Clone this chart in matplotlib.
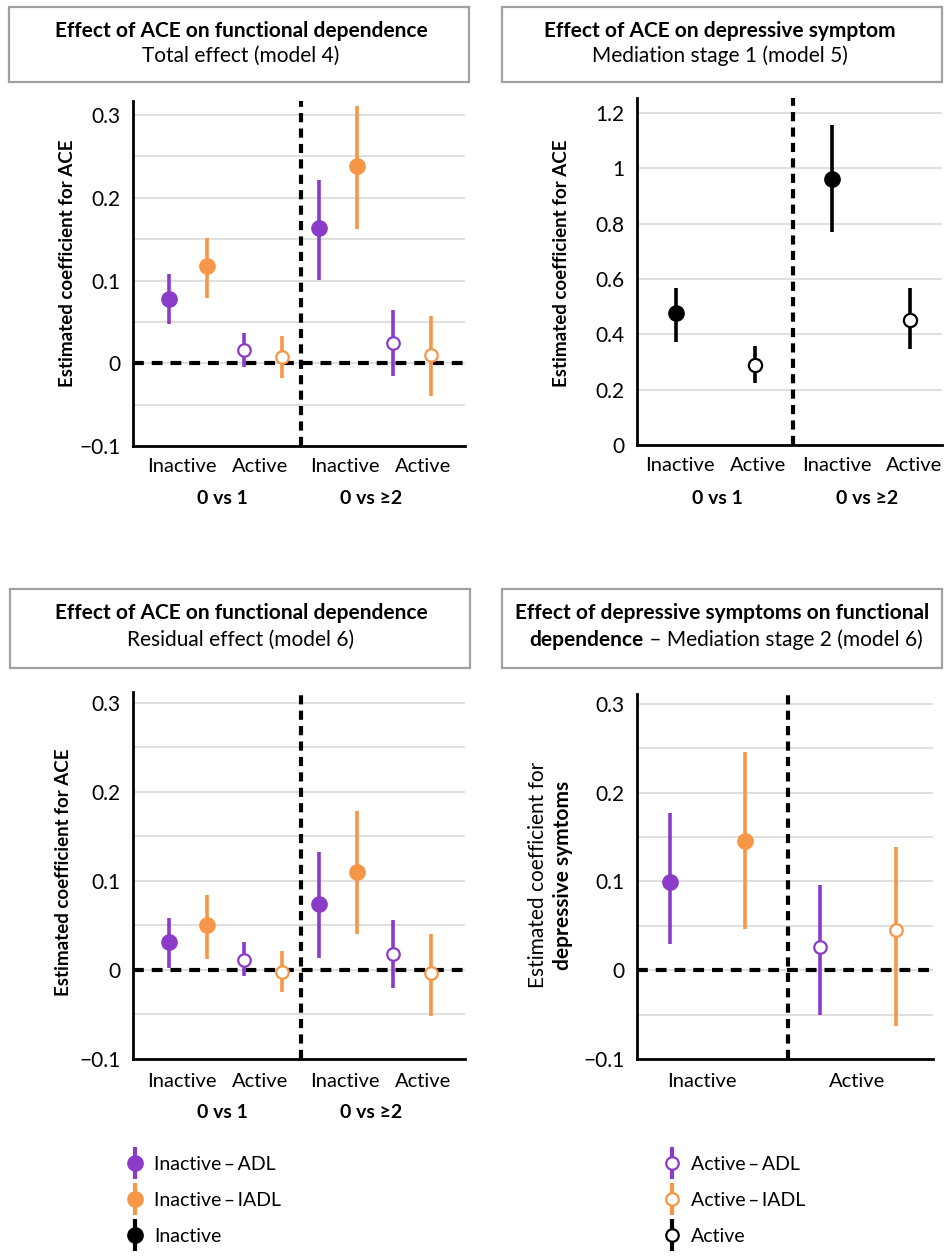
import matplotlib
matplotlib.use("Agg")
import matplotlib.pyplot as plt
from matplotlib.lines import Line2D
from matplotlib.patches import Rectangle
from matplotlib.legend_handler import HandlerTuple
import matplotlib.transforms as mtransforms

plt.rcParams['font.family'] = ['Lato', 'DejaVu Sans']

PURPLE = "#8a3cc8"
ORANGE = "#f79646"
BLACK = "#000000"

# ---------------- data ----------------
cat_labels4 = ["Inactive", "Active", "Inactive", "Active"]
group_labels = ["0 vs 1", "0 vs \u22652"]

# Panel 1: total effect (model 4)
p1_adl_est = [0.078, 0.016, 0.163, 0.025]
p1_adl_lo = [0.047, -0.004, 0.101, -0.015]
p1_adl_hi = [0.108, 0.036, 0.222, 0.064]
p1_iadl_est = [0.117, 0.007, 0.239, 0.010]
p1_iadl_lo = [0.079, -0.018, 0.162, -0.040]
p1_iadl_hi = [0.152, 0.033, 0.311, 0.057]

# Panel 2: ACE on depressive symptom (model 5)
p2_est = [0.477, 0.290, 0.963, 0.453]
p2_lo = [0.372, 0.224, 0.770, 0.348]
p2_hi = [0.567, 0.357, 1.158, 0.567]

# Panel 3: residual effect (model 6)
p3_adl_est = [0.031, 0.011, 0.074, 0.018]
p3_adl_lo = [0.002, -0.007, 0.013, -0.020]
p3_adl_hi = [0.058, 0.031, 0.132, 0.056]
p3_iadl_est = [0.050, -0.002, 0.110, -0.004]
p3_iadl_lo = [0.012, -0.025, 0.040, -0.052]
p3_iadl_hi = [0.084, 0.021, 0.178, 0.040]

# Panel 4: depressive symptoms on functional dependence (model 6)
cat_labels2 = ["Inactive", "Active"]
p4_adl_est = [0.099, 0.026]
p4_adl_lo = [0.030, -0.050]
p4_adl_hi = [0.177, 0.096]
p4_iadl_est = [0.145, 0.045]
p4_iadl_lo = [0.046, -0.063]
p4_iadl_hi = [0.246, 0.139]

filled = [True, False, True, False]
filled2 = [True, False]

W, H = 945, 1256
fig = plt.figure(figsize=(W / 100, H / 100), dpi=100)

TICK_FS = 15
CAT_FS = 14.5
TITLE_FS = 15
YLAB_FS = 13.5


def ax_rect(left, right, top, bottom):
    return [left / W, 1 - bottom / H, (right - left) / W, (bottom - top) / H]


def style_axes(ax, ylim, grid_vals, tick_vals, tick_fmt):
    ax.set_ylim(*ylim)
    for g in grid_vals:
        ax.axhline(g, color="#d9d9d9", lw=1.2, zorder=0)
    ax.set_yticks(tick_vals)
    ax.set_yticklabels([tick_fmt(v) for v in tick_vals])
    ax.tick_params(axis='y', length=0, pad=9, labelsize=TICK_FS)
    ax.tick_params(axis='x', length=0, pad=9, labelsize=CAT_FS)
    for s in ["top", "right"]:
        ax.spines[s].set_visible(False)
    for s in ["left", "bottom"]:
        ax.spines[s].set_linewidth(2)
        ax.spines[s].set_color("black")


def fmt(v):
    if abs(v) < 1e-9:
        return "0"
    s = ("%.1f" % v).replace("-", "\u2212")
    if s.endswith(".0"):
        s = s[:-2]
    return s


def draw_points(ax, xs, est, lo, hi, color, fills, ms_f=11, ms_o=9):
    for x, e, l, h, f in zip(xs, est, lo, hi, fills):
        ax.plot([x, x], [l, h], color=color, lw=2.6, solid_capstyle='butt', zorder=3)
        if f:
            ax.plot([x], [e], marker='o', ms=ms_f, color=color, mec=color, zorder=4)
        else:
            ax.plot([x], [e], marker='o', ms=ms_o, mfc='white', mec=color, mew=1.6, zorder=4)


def zero_and_divider(ax, xdiv):
    ax.axhline(0, color='black', lw=3, linestyle=(0, (2.6, 1.9)), zorder=2)
    ax.axvline(xdiv, color='black', lw=3, linestyle=(0, (2.2, 1.5)), zorder=2)


grid_small = [0.3, 0.25, 0.2, 0.15, 0.1, 0.05, 0, -0.05]
ticks_small = [0.3, 0.2, 0.1, 0, -0.1]

point_centers = [0.66, 1.565, 2.465, 3.365]
off = 0.23
label_pos = [0.59, 1.53, 2.55, 3.49]
group_pos = [1.08, 2.87]

# ---------- Panel 1 ----------
ax1 = fig.add_axes(ax_rect(133, 465, 101, 446))
style_axes(ax1, (-0.1, 0.317), grid_small, ticks_small, fmt)
ax1.set_xlim(0, 4)
zero_and_divider(ax1, 2.02)
draw_points(ax1, [c - off for c in point_centers], p1_adl_est, p1_adl_lo, p1_adl_hi, PURPLE, filled)
draw_points(ax1, [c + off for c in point_centers], p1_iadl_est, p1_iadl_lo, p1_iadl_hi, ORANGE, filled)
ax1.set_xticks(label_pos)
ax1.set_xticklabels(cat_labels4)
tr1 = mtransforms.blended_transform_factory(ax1.transData, ax1.transAxes)
for gx, gl in zip(group_pos, group_labels):
    ax1.text(gx, -0.151, gl, transform=tr1, ha='center', va='center', fontsize=14, fontweight='bold')
ax1.text(-0.196, 0.53, "Estimated coefficient for ACE", transform=ax1.transAxes, rotation=90,
         ha='center', va='center', fontsize=YLAB_FS, fontweight='bold')

# ---------- Panel 2 ----------
ax2 = fig.add_axes(ax_rect(637, 942, 98, 445))
ticks_big = [0, 0.2, 0.4, 0.6, 0.8, 1.0, 1.2]
style_axes(ax2, (0, 1.254), ticks_big[1:], ticks_big, fmt)
ax2.set_xlim(0, 4)
ax2.axvline(2.05, color='black', lw=3, linestyle=(0, (2.2, 1.5)), zorder=2)
draw_points(ax2, [0.51, 1.55, 2.56, 3.58], p2_est, p2_lo, p2_hi, BLACK, filled, ms_f=11, ms_o=9.5)
ax2.set_xticks([0.56, 1.59, 2.62, 3.64])
ax2.set_xticklabels(cat_labels4)
tr2 = mtransforms.blended_transform_factory(ax2.transData, ax2.transAxes)
for gx, gl in zip([1.06, 3.02], group_labels):
    ax2.text(gx, -0.153, gl, transform=tr2, ha='center', va='center', fontsize=14, fontweight='bold')
ax2.text(-0.249, 0.524, "Estimated coefficient for ACE", transform=ax2.transAxes, rotation=90,
         ha='center', va='center', fontsize=YLAB_FS, fontweight='bold')

# ---------- Panel 3 ----------
ax3 = fig.add_axes(ax_rect(133, 465, 692, 1059))
style_axes(ax3, (-0.1, 0.312), grid_small, ticks_small, fmt)
ax3.set_xlim(0, 4)
zero_and_divider(ax3, 2.02)
draw_points(ax3, [c - off for c in point_centers], p3_adl_est, p3_adl_lo, p3_adl_hi, PURPLE, filled)
draw_points(ax3, [c + off for c in point_centers], p3_iadl_est, p3_iadl_lo, p3_iadl_hi, ORANGE, filled)
ax3.set_xticks(label_pos)
ax3.set_xticklabels(cat_labels4)
ax3.tick_params(axis='x', pad=10)
tr3 = mtransforms.blended_transform_factory(ax3.transData, ax3.transAxes)
for gx, gl in zip(group_pos, group_labels):
    ax3.text(gx, -0.147, gl, transform=tr3, ha='center', va='center', fontsize=14, fontweight='bold')
ax3.text(-0.208, 0.51, "Estimated coefficient for ACE", transform=ax3.transAxes, rotation=90,
         ha='center', va='center', fontsize=YLAB_FS, fontweight='bold')

# ---------- Panel 4 ----------
ax4 = fig.add_axes(ax_rect(637, 933, 694, 1059))
style_axes(ax4, (-0.1, 0.311), grid_small, ticks_small, fmt)
ax4.set_xlim(0, 2)
zero_and_divider(ax4, 1.02)
draw_points(ax4, [0.225, 1.236], p4_adl_est, p4_adl_lo, p4_adl_hi, PURPLE, filled2)
draw_points(ax4, [0.73, 1.75], p4_iadl_est, p4_iadl_lo, p4_iadl_hi, ORANGE, filled2)
ax4.set_xticks([0.44, 1.49])
ax4.set_xticklabels(cat_labels2)
ax4.tick_params(axis='x', pad=10)
ax4.text(-0.334, 0.504, "Estimated coefficient for", transform=ax4.transAxes, rotation=90,
         ha='center', va='center', fontsize=15)
ax4.text(-0.25, 0.504, "depressive symtoms", transform=ax4.transAxes, rotation=90,
         ha='center', va='center', fontsize=15, fontweight='bold')

# ---------- title boxes ----------
def box(x0, x1, y0, y1):
    fig.patches.append(Rectangle((x0 / W, 1 - y1 / H), (x1 - x0) / W, (y1 - y0) / H,
                                 transform=fig.transFigure, fill=False,
                                 edgecolor="#a0a0a0", lw=1.6))

def ftext(x, y, s, **kw):
    return fig.text(x / W, 1 - y / H, s, ha='center', va='center', **kw)

box(9, 469, 7, 82)
ftext(241, 31, "Effect of ACE on functional dependence", fontsize=TITLE_FS, fontweight='bold')
ftext(241, 56, "Total effect (model 4)", fontsize=TITLE_FS)

box(502, 942, 7, 82)
ftext(720, 31, "Effect of ACE on depressive symptom", fontsize=TITLE_FS, fontweight='bold')
ftext(720, 56, "Mediation stage 1 (model 5)", fontsize=TITLE_FS)

box(10, 470, 589, 668)
ftext(241, 613, "Effect of ACE on functional dependence", fontsize=TITLE_FS, fontweight='bold')
ftext(241, 640, "Residual effect (model 6)", fontsize=TITLE_FS)

box(502, 942, 589, 668)
ftext(722, 613, "Effect of depressive symptoms on functional", fontsize=TITLE_FS, fontweight='bold')
tb = fig.text(0, 1 - 640 / H, "dependence", ha='left', va='center', fontsize=TITLE_FS, fontweight='bold')
tn = fig.text(0, 1 - 640 / H, " \u2013 Mediation stage 2 (model 6)", ha='left', va='center', fontsize=TITLE_FS)
fig.canvas.draw()
r = fig.canvas.get_renderer()
wb = tb.get_window_extent(r).width
wn = tn.get_window_extent(r).width
start = 726 - (wb + wn) / 2
tb.set_x(start / W)
tn.set_x((start + wb) / W)

# ---------- legends ----------
def handle(color, filled_marker):
    bar = Line2D([], [], color=color, marker='|', markersize=23, mew=3, linestyle='None')
    if filled_marker:
        dot = Line2D([], [], color=color, marker='o', markersize=11, linestyle='None')
    else:
        dot = Line2D([], [], color=color, marker='o', markersize=9, mfc='white', mew=1.6, linestyle='None')
    return (bar, dot)

left_handles = [handle(PURPLE, True), handle(ORANGE, True), handle(BLACK, True)]
left_labels = ["Inactive\u2009\u2013\u2009ADL", "Inactive\u2009\u2013\u2009IADL", "Inactive"]
right_handles = [handle(PURPLE, False), handle(ORANGE, False), handle(BLACK, False)]
right_labels = ["Active\u2009\u2013\u2009ADL", "Active\u2009\u2013\u2009IADL", "Active"]

for hs, ls, xl in [(left_handles, left_labels, 125), (right_handles, right_labels, 662)]:
    fig.legend(hs, ls, handler_map={tuple: HandlerTuple(ndivide=1)},
               loc='upper left', bbox_to_anchor=(xl / W, 1 - 1156 / H),
               frameon=False, fontsize=14, handlelength=1.0, handletextpad=0.5,
               labelspacing=0.98, borderpad=0, borderaxespad=0)

fig.savefig("out.png", dpi=100)
